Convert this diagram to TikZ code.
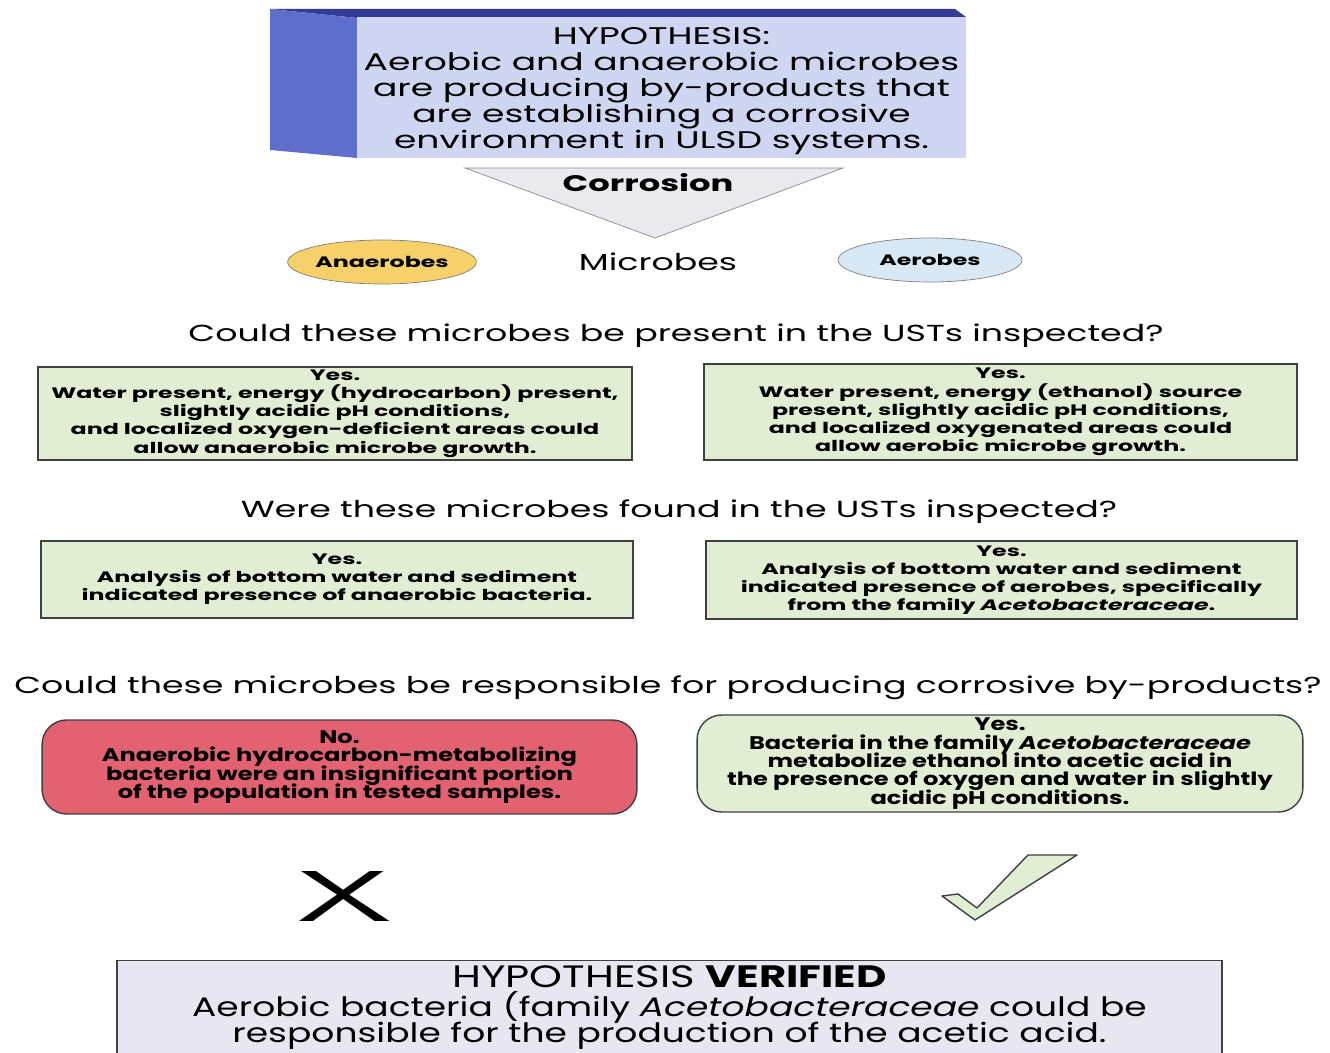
\documentclass[tikz,border=0pt]{standalone}
\usepackage{fontspec}
\setmainfont[FakeStretch=1.5]{Poppins}
\newfontfamily\boxfont[FakeStretch=1.57]{Poppins}
\newfontfamily\narrowfont[FakeStretch=1.32]{Poppins}
\newfontfamily\verdictfont[FakeStretch=1.35]{Poppins}
\usetikzlibrary{
	positioning,
	shapes.geometric,
	calc,
}
\lineskiplimit=-\maxdimen
\definecolor{hypoface}{RGB}{206,214,242}
\definecolor{hyposide}{RGB}{94,110,202}
\definecolor{hypotop}{RGB}{50,60,150}
\definecolor{yesgreen}{RGB}{226,238,212}
\definecolor{nored}{RGB}{226,98,114}
\definecolor{anaero}{RGB}{246,208,104}
\definecolor{aero}{RGB}{216,233,245}
\definecolor{verified}{RGB}{232,230,240}
\definecolor{corrgray}{RGB}{234,234,238}
\tikzset{answer box/.style={
	draw=black!75,
	thick,
	fill=yesgreen,
	align=center,
	inner sep=0mm,
	font=\boxfont\bfseries\fontsize{8.6}{10.35}\selectfont,
}}
\tikzset{round box/.style={
	answer box,
	rounded corners=14pt,
	font=\narrowfont\bfseries\fontsize{10.4}{10.5}\selectfont,
}}
\tikzset{question/.style={
	inner sep=0mm,
	font=\fontsize{13.2}{15}\selectfont,
}}
\tikzset{microbe/.style={
	draw=black!50,
	ellipse,
	inner sep=0mm,
	minimum width=3.68cm,
	minimum height=0.88cm,
	font=\boxfont\bfseries\fontsize{8.6}{10}\selectfont,
}}

\begin{document}
\begin{tikzpicture}[x=0.02cm,y=-0.02cm]
\useasboundingbox (0,0) rectangle (1330,1053);

% hypothesis block
\fill[hypotop] (270,9) -- (955,9) -- (966,17) -- (357,18) -- cycle;
\fill[hyposide] (270,9) -- (357,18) -- (357,158) -- (270,150) -- cycle;
\fill[hypoface] (357,17) rectangle (966,158);
\node[inner sep=0mm, align=center, font=\fontsize{13.7}{14.8}\selectfont](hypo) at (661.5,91)
	{HYPOTHESIS:\\Aerobic and anaerobic microbes\\are producing by-products that\\
	are establishing a corrosive\\environment in ULSD systems.};

% corrosion triangle
\filldraw[fill=corrgray, draw=black!45] (465,168) -- (843,168) -- (655,238) -- cycle;
\node[font=\bfseries\fontsize{12.8}{15}\selectfont, inner sep=0mm](corr) at (648,183) {Corrosion};

\node[microbe, fill=anaero](anaer) at (382,262) {Anaerobes};
\node[question](micro) at (658,262) {Microbes};
\node[microbe, fill=aero](aer) at (930,260) {Aerobes};

% present?
\node[question](q1) at (676,336) {Could these microbes be present in the USTs inspected?};
\node[answer box, minimum width=11.88cm, minimum height=1.86cm](p1) at (335,413.5)
	{Yes.\\Water present, energy (hydrocarbon) present,\\slightly acidic pH conditions,\\
	and localized oxygen-deficient areas could\\allow anaerobic microbe growth.};
\node[answer box, minimum width=11.86cm, minimum height=1.92cm](p2) at (1000.5,412)
	{Yes.\\Water present, energy (ethanol) source\\present, slightly acidic pH conditions,\\
	and localized oxygenated areas could\\allow aerobic microbe growth.};

% found?
\node[question](q2) at (679,512) {Were these microbes found in the USTs inspected?};
\node[answer box, minimum width=11.84cm, minimum height=1.54cm](f1) at (337,579.5)
	{Yes.\\Analysis of bottom water and sediment\\indicated presence of anaerobic bacteria.};
\node[answer box, minimum width=11.82cm, minimum height=1.56cm](f2) at (1001.5,580)
	{Yes.\\Analysis of bottom water and sediment\\indicated presence of aerobes, specifically\\
	from the family \textit{Acetobacteraceae}.};

% responsible?
\node[question](q3) at (668,688) {Could these microbes be responsible for producing corrosive by-products?};
\node[round box, fill=nored, minimum width=11.9cm, minimum height=1.88cm](r1) at (339.5,767)
	{No.\\Anaerobic hydrocarbon-metabolizing\\bacteria were an insignificant portion\\
	of the population in tested samples.};
\node[round box, minimum width=12.12cm, minimum height=1.94cm](r2) at (1000,763.5)
	{Yes.\\Bacteria in the family \textit{Acetobacteraceae}\\metabolize ethanol into acetic acid in\\
	the presence of oxygen and water in slightly\\acidic pH conditions.};

% marks
\node[font=\sffamily\fontsize{41}{41}\selectfont, inner sep=0mm](cross) at (345,897) {\scalebox{2.1}[1]{X}};
\filldraw[fill=yesgreen, draw=black!75, thick, line join=round]
	(942,896) -- (958,894) -- (977,908) -- (1028,855) -- (1077,855) -- (975,920) -- cycle;

% verdict
\node[answer box, fill=verified, minimum width=22.1cm, minimum height=1.86cm, anchor=north,
	font=\verdictfont\fontsize{15.2}{14.9}\selectfont](verdict) at (669.5,960)
	{{\fontsize{17.6}{15}\selectfont HYPOTHESIS \textbf{VERIFIED}}\\[1.6pt]Aerobic bacteria (family \textit{Acetobacteraceae} could be\\
	responsible for the production of the acetic acid.};

\end{tikzpicture}
\end{document}
